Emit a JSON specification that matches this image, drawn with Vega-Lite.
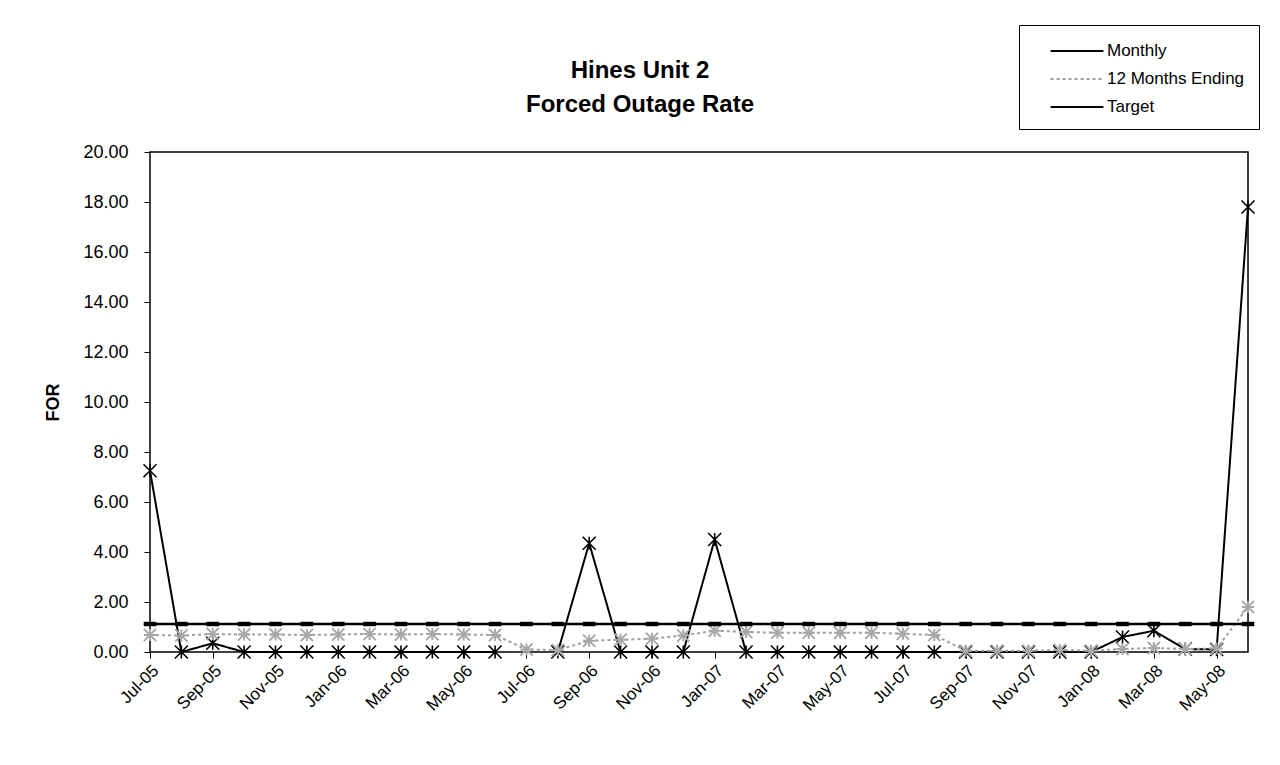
{
  "$schema": "https://vega.github.io/schema/vega-lite/v6.json",
  "width": 1098,
  "height": 500,
  "autosize": {"type": "none"},
  "padding": {"left": 150, "top": 152, "right": 32, "bottom": 113},
  "background": "white",
  "config": {
    "font": "Liberation Sans",
    "view": {"stroke": "black", "strokeWidth": 1.5},
    "axis": {"grid": false, "domain": false, "labelColor": "black", "tickColor": "black", "titleColor": "black", "labelFont": "Liberation Sans", "titleFont": "Liberation Sans"}
  },
  "title": {
    "text": ["Hines Unit 2", "Forced Outage Rate"],
    "fontSize": 24,
    "fontWeight": "bold",
    "color": "black",
    "anchor": "middle",
    "dx": -59,
    "dy": 92,
    "offset": 0,
    "lineHeight": 34,
    "font": "Liberation Sans"
  },
  "datasets": {
    "rows": [
      {"m": "Jul-05", "s": "Monthly", "v": 7.25}, {"m": "Aug-05", "s": "Monthly", "v": 0}, {"m": "Sep-05", "s": "Monthly", "v": 0.35}, {"m": "Oct-05", "s": "Monthly", "v": 0},
      {"m": "Nov-05", "s": "Monthly", "v": 0}, {"m": "Dec-05", "s": "Monthly", "v": 0}, {"m": "Jan-06", "s": "Monthly", "v": 0}, {"m": "Feb-06", "s": "Monthly", "v": 0},
      {"m": "Mar-06", "s": "Monthly", "v": 0}, {"m": "Apr-06", "s": "Monthly", "v": 0}, {"m": "May-06", "s": "Monthly", "v": 0}, {"m": "Jun-06", "s": "Monthly", "v": 0},
      {"m": "Jul-06", "s": "Monthly", "v": null}, {"m": "Aug-06", "s": "Monthly", "v": 0}, {"m": "Sep-06", "s": "Monthly", "v": 4.35}, {"m": "Oct-06", "s": "Monthly", "v": 0},
      {"m": "Nov-06", "s": "Monthly", "v": 0}, {"m": "Dec-06", "s": "Monthly", "v": 0}, {"m": "Jan-07", "s": "Monthly", "v": 4.5}, {"m": "Feb-07", "s": "Monthly", "v": 0},
      {"m": "Mar-07", "s": "Monthly", "v": 0}, {"m": "Apr-07", "s": "Monthly", "v": 0}, {"m": "May-07", "s": "Monthly", "v": 0}, {"m": "Jun-07", "s": "Monthly", "v": 0},
      {"m": "Jul-07", "s": "Monthly", "v": 0}, {"m": "Aug-07", "s": "Monthly", "v": 0}, {"m": "Sep-07", "s": "Monthly", "v": 0}, {"m": "Oct-07", "s": "Monthly", "v": 0},
      {"m": "Nov-07", "s": "Monthly", "v": 0}, {"m": "Dec-07", "s": "Monthly", "v": 0}, {"m": "Jan-08", "s": "Monthly", "v": 0}, {"m": "Feb-08", "s": "Monthly", "v": 0.6},
      {"m": "Mar-08", "s": "Monthly", "v": 0.85}, {"m": "Apr-08", "s": "Monthly", "v": 0.12}, {"m": "May-08", "s": "Monthly", "v": 0.1}, {"m": "Jun-08", "s": "Monthly", "v": 17.8},

      {"m": "Jul-05", "s": "12 Months Ending", "v": 0.68}, {"m": "Aug-05", "s": "12 Months Ending", "v": 0.66}, {"m": "Sep-05", "s": "12 Months Ending", "v": 0.72}, {"m": "Oct-05", "s": "12 Months Ending", "v": 0.7},
      {"m": "Nov-05", "s": "12 Months Ending", "v": 0.7}, {"m": "Dec-05", "s": "12 Months Ending", "v": 0.68}, {"m": "Jan-06", "s": "12 Months Ending", "v": 0.7}, {"m": "Feb-06", "s": "12 Months Ending", "v": 0.72},
      {"m": "Mar-06", "s": "12 Months Ending", "v": 0.7}, {"m": "Apr-06", "s": "12 Months Ending", "v": 0.72}, {"m": "May-06", "s": "12 Months Ending", "v": 0.7}, {"m": "Jun-06", "s": "12 Months Ending", "v": 0.68},
      {"m": "Jul-06", "s": "12 Months Ending", "v": 0.1}, {"m": "Aug-06", "s": "12 Months Ending", "v": 0.08}, {"m": "Sep-06", "s": "12 Months Ending", "v": 0.45}, {"m": "Oct-06", "s": "12 Months Ending", "v": 0.49},
      {"m": "Nov-06", "s": "12 Months Ending", "v": 0.53}, {"m": "Dec-06", "s": "12 Months Ending", "v": 0.66}, {"m": "Jan-07", "s": "12 Months Ending", "v": 0.85}, {"m": "Feb-07", "s": "12 Months Ending", "v": 0.8},
      {"m": "Mar-07", "s": "12 Months Ending", "v": 0.77}, {"m": "Apr-07", "s": "12 Months Ending", "v": 0.77}, {"m": "May-07", "s": "12 Months Ending", "v": 0.77}, {"m": "Jun-07", "s": "12 Months Ending", "v": 0.77},
      {"m": "Jul-07", "s": "12 Months Ending", "v": 0.73}, {"m": "Aug-07", "s": "12 Months Ending", "v": 0.68}, {"m": "Sep-07", "s": "12 Months Ending", "v": 0.05}, {"m": "Oct-07", "s": "12 Months Ending", "v": 0.05},
      {"m": "Nov-07", "s": "12 Months Ending", "v": 0.05}, {"m": "Dec-07", "s": "12 Months Ending", "v": 0.08}, {"m": "Jan-08", "s": "12 Months Ending", "v": 0.05}, {"m": "Feb-08", "s": "12 Months Ending", "v": 0.12},
      {"m": "Mar-08", "s": "12 Months Ending", "v": 0.16}, {"m": "Apr-08", "s": "12 Months Ending", "v": 0.12}, {"m": "May-08", "s": "12 Months Ending", "v": 0.14}, {"m": "Jun-08", "s": "12 Months Ending", "v": 1.8},

      {"m": "Jul-05", "s": "Target", "v": 1.12}, {"m": "Aug-05", "s": "Target", "v": 1.12}, {"m": "Sep-05", "s": "Target", "v": 1.12}, {"m": "Oct-05", "s": "Target", "v": 1.12},
      {"m": "Nov-05", "s": "Target", "v": 1.12}, {"m": "Dec-05", "s": "Target", "v": 1.12}, {"m": "Jan-06", "s": "Target", "v": 1.12}, {"m": "Feb-06", "s": "Target", "v": 1.12},
      {"m": "Mar-06", "s": "Target", "v": 1.12}, {"m": "Apr-06", "s": "Target", "v": 1.12}, {"m": "May-06", "s": "Target", "v": 1.12}, {"m": "Jun-06", "s": "Target", "v": 1.12},
      {"m": "Jul-06", "s": "Target", "v": 1.12}, {"m": "Aug-06", "s": "Target", "v": 1.12}, {"m": "Sep-06", "s": "Target", "v": 1.12}, {"m": "Oct-06", "s": "Target", "v": 1.12},
      {"m": "Nov-06", "s": "Target", "v": 1.12}, {"m": "Dec-06", "s": "Target", "v": 1.12}, {"m": "Jan-07", "s": "Target", "v": 1.12}, {"m": "Feb-07", "s": "Target", "v": 1.12},
      {"m": "Mar-07", "s": "Target", "v": 1.12}, {"m": "Apr-07", "s": "Target", "v": 1.12}, {"m": "May-07", "s": "Target", "v": 1.12}, {"m": "Jun-07", "s": "Target", "v": 1.12},
      {"m": "Jul-07", "s": "Target", "v": 1.12}, {"m": "Aug-07", "s": "Target", "v": 1.12}, {"m": "Sep-07", "s": "Target", "v": 1.12}, {"m": "Oct-07", "s": "Target", "v": 1.12},
      {"m": "Nov-07", "s": "Target", "v": 1.12}, {"m": "Dec-07", "s": "Target", "v": 1.12}, {"m": "Jan-08", "s": "Target", "v": 1.12}, {"m": "Feb-08", "s": "Target", "v": 1.12},
      {"m": "Mar-08", "s": "Target", "v": 1.12}, {"m": "Apr-08", "s": "Target", "v": 1.12}, {"m": "May-08", "s": "Target", "v": 1.12}, {"m": "Jun-08", "s": "Target", "v": 1.12}
    ]
  },
  "data": {"name": "rows"},
  "encoding": {
    "x": {
      "field": "m",
      "type": "ordinal",
      "scale": {
        "type": "point",
        "padding": 0,
        "domain": ["Jul-05","Aug-05","Sep-05","Oct-05","Nov-05","Dec-05","Jan-06","Feb-06","Mar-06","Apr-06","May-06","Jun-06","Jul-06","Aug-06","Sep-06","Oct-06","Nov-06","Dec-06","Jan-07","Feb-07","Mar-07","Apr-07","May-07","Jun-07","Jul-07","Aug-07","Sep-07","Oct-07","Nov-07","Dec-07","Jan-08","Feb-08","Mar-08","Apr-08","May-08","Jun-08"]
      },
      "axis": {
        "title": null,
        "values": ["Jul-05","Sep-05","Nov-05","Jan-06","Mar-06","May-06","Jul-06","Sep-06","Nov-06","Jan-07","Mar-07","May-07","Jul-07","Sep-07","Nov-07","Jan-08","Mar-08","May-08"],
        "labelAngle": -45,
        "labelFontSize": 17,
        "tickSize": 6,
        "labelPadding": 4
      }
    },
    "y": {
      "field": "v",
      "type": "quantitative",
      "scale": {"domain": [0, 20], "nice": false, "zero": true},
      "axis": {
        "values": [0, 2, 4, 6, 8, 10, 12, 14, 16, 18, 20],
        "format": ".2f",
        "title": "FOR",
        "labelFontSize": 18,
        "labelPadding": 16,
        "tickSize": 6,
        "titleFontSize": 18,
        "titleFontWeight": "bold",
        "titlePadding": 20
      }
    }
  },
  "layer": [
    {
      "transform": [{"filter": "datum.s === 'Monthly'"}],
      "mark": {"type": "line", "strokeWidth": 2, "invalid": "break-paths-show-domains"},
      "encoding": {
        "color": {"field": "s", "type": "nominal", "scale": {"domain": ["Monthly", "12 Months Ending", "Target"], "range": ["#000000", "#a0a0a0", "#000000"]},
          "legend": {"orient": "none", "legendX": 869, "legendY": -127, "title": null, "symbolType": "M-2.4,0H2.4", "symbolSize": 484, "symbolStrokeWidth": 2, "labelFontSize": 17, "labelColor": "black", "labelFont": "Liberation Sans", "rowPadding": 8, "padding": 14, "symbolOffset": 32, "labelOffset": 18, "strokeColor": "black", "fillColor": "white"}},
        "strokeDash": {"field": "s", "type": "nominal", "scale": {"domain": ["Monthly", "12 Months Ending", "Target"], "range": [[1, 0], [3, 3], [1, 0]]},
          "legend": {"orient": "none", "legendX": 869, "legendY": -127, "title": null, "symbolType": "M-2.4,0H2.4", "symbolSize": 484, "symbolStrokeWidth": 2, "labelFontSize": 17, "labelColor": "black", "labelFont": "Liberation Sans", "rowPadding": 8, "padding": 14, "symbolOffset": 32, "labelOffset": 18, "strokeColor": "black", "fillColor": "white"}}
      }
    },
    {
      "transform": [{"filter": "datum.s === 'Monthly' && datum.v != null"}],
      "mark": {"type": "point", "shape": "M-1,-1L1,1M-1,1L1,-1M0,-1L0,1", "filled": false, "stroke": "black", "strokeWidth": 1.6, "size": 170, "opacity": 1}
    },
    {
      "transform": [{"filter": "datum.s === '12 Months Ending'"}],
      "mark": {"type": "line", "strokeWidth": 2},
      "encoding": {
        "color": {"field": "s", "type": "nominal", "scale": {"domain": ["Monthly", "12 Months Ending", "Target"], "range": ["#000000", "#a0a0a0", "#000000"]}},
        "strokeDash": {"field": "s", "type": "nominal", "scale": {"domain": ["Monthly", "12 Months Ending", "Target"], "range": [[1, 0], [3, 3], [1, 0]]}}
      }
    },
    {
      "transform": [{"filter": "datum.s === '12 Months Ending'"}],
      "mark": {"type": "point", "shape": "M-1,-1L1,1M-1,1L1,-1M0,-1L0,1M-1,0L1,0", "filled": false, "stroke": "#a8a8a8", "strokeWidth": 2, "size": 150, "opacity": 1}
    },
    {
      "transform": [{"filter": "datum.s === 'Target'"}],
      "mark": {"type": "line", "strokeWidth": 2.5},
      "encoding": {
        "color": {"field": "s", "type": "nominal", "scale": {"domain": ["Monthly", "12 Months Ending", "Target"], "range": ["#000000", "#a0a0a0", "#000000"]}},
        "strokeDash": {"field": "s", "type": "nominal", "scale": {"domain": ["Monthly", "12 Months Ending", "Target"], "range": [[1, 0], [3, 3], [1, 0]]}}
      }
    },
    {
      "transform": [{"filter": "datum.s === 'Target'"}],
      "mark": {"type": "point", "shape": "M-1,-0.35H1V0.35H-1Z", "filled": true, "fill": "black", "size": 160, "opacity": 1}
    }
  ]
}
